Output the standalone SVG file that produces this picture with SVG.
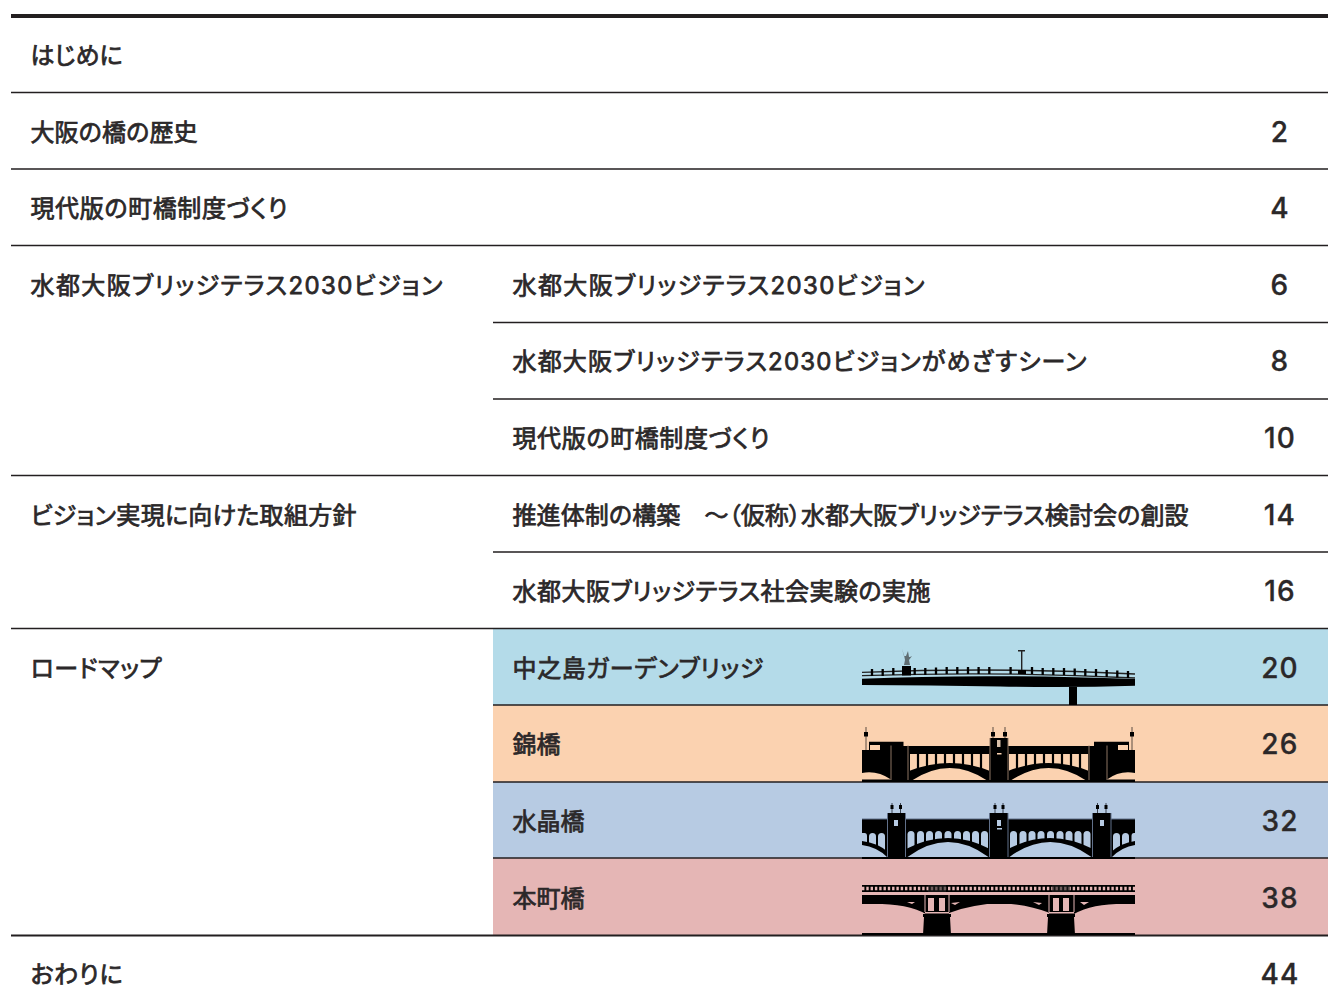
<svg xmlns="http://www.w3.org/2000/svg" width="1328" height="1005" viewBox="0 0 1328 1005">
<style>
text{font-family:"Inter","Noto Sans CJK JP",sans-serif;font-size:24px;font-weight:400;fill:#2b2829;stroke:#2b2829;stroke-width:.75;font-feature-settings:"palt"}
.n{font-family:"Inter","Noto Sans",sans-serif;font-size:28px;font-weight:500;stroke-width:.3;letter-spacing:1.200px;text-anchor:middle}
.l{stroke:#231f20;stroke-width:1.4;fill:none}
</style>
<rect width="1328" height="1005" fill="#fff"/>
<g id="bands">
<rect x="493" y="629" width="835" height="76" fill="#b4dbe9"/>
<rect x="493" y="705" width="835" height="77" fill="#fbd2b0"/>
<rect x="493" y="782" width="835" height="76" fill="#b7cbe3"/>
<rect x="493" y="858" width="835" height="77" fill="#e5b6b5"/>
</g>
<g id="connectors">
<rect x="11" y="14" width="1317" height="4" fill="#231f20"/>
<path class="l" d="M11 92.500H1328M11 169H1328M11 245.500H1328M493 322.500H1328M493 399H1328M11 475.500H1328M493 552H1328M11 628.500H1328"/>
<path class="l" d="M493 705H1328M493 782H1328M493 858H1328"/>
<path d="M11 935.500H1328" stroke="#231f20" stroke-width="2"/>
</g>
<g id="bridge1">
<path d="M862 678.800Q980 673.500 1135 679V685.700Q1070 688 1000 686.500Q930 685 862 685Z" fill="#000"/>
<path d="M862 672.300Q1000 667 1135 674M862 675.700Q1000 671 1135 678" stroke="#222" stroke-width="1.300" fill="none"/>
<path d="M872 669v7M882.700 669v7M893.300 668v7M914.700 668v7M925.300 668v7M936 667.500v7M946.700 667v7M957.300 667v7M968 667v7M978.600 667v7M989.300 667v7M1010.600 667v7M1032 667v7M1042.700 668v7M1053.300 668v7M1064 668v7M1074.700 668.500v7M1085.300 669v7M1096 669v7M1106.700 670v7M1117.300 670.500v7M1128 671v7" stroke="#000" stroke-width="2.300"/>
<rect x="902" y="666" width="9" height="9.500" fill="#000"/>
<path d="M902 649l2 6 1 5-1 5h6l-1-5 3-4 2-1-4 2h-1l-1-6-2 5h-2z" fill="#5f6d72"/>
<rect x="1018" y="670" width="8" height="4" fill="#000"/>
<path d="M1021.700 670V651" stroke="#222" stroke-width="1.400" fill="none"/>
<path d="M1018 650h7v1.500h-7z" fill="#222"/>
<rect x="1069" y="687" width="8" height="18" fill="#000"/>
</g>
<g id="bridge2">
<path fill="#000" d="M862 750H869V741.700H903.500V746H1094V741.700H1129V750H1135V782H862Z"/>
<path fill="#fbd2b0" d="M870 745h10v5h-10zM1118 745h10v5h-10zM910 754H989V781H910ZM1009 754H1088V781H1009Z"/>
<path d="M918 754v18M927 754v15M936 754v13M945 754v12M954 754v12M963 754v13M972 754v15M981 754v18M1017 754v18M1026 754v15M1035 754v13M1044 754v12M1053 754v12M1062 754v13M1071 754v15M1080 754v18" stroke="#000" stroke-width="2.200"/>
<path fill="#000" d="M909 771Q950 755 990 771V781H988Q950 755 911 781H909ZM1008 771Q1049 755 1089 771V781H1087Q1049 755 1010 781H1008Z"/>
<path fill="#fbd2b0" d="M862 773Q877 770 891 779.500H862ZM1135 773Q1120 770 1107 779.500H1135Z"/>
<rect x="990" y="738" width="18" height="43" fill="#000"/>
<path d="M891 745.500V781M908 745.500V781M990 738V781M1008 738V781M1089 745.500V781M1107 745.500V781" stroke="#8c7463" stroke-width="1" fill="none"/>
<rect x="997" y="740" width="3.500" height="7" fill="#d9c0aa"/><rect x="997" y="753" width="4.500" height="1.500" fill="#fbd2b0"/>
<path d="M866 750V727M993 738V727M1005 738V727M1132 750V727" stroke="#5a4c42" stroke-width="1"/>
<rect x="864" y="732" width="4" height="4.500" fill="#000"/><rect x="991" y="732" width="4" height="4.500" fill="#000"/><rect x="1003" y="732" width="4" height="4.500" fill="#000"/><rect x="1130" y="732" width="4" height="4.500" fill="#000"/>
<rect x="862" y="780" width="273" height="2" fill="#000"/>
</g>
<g id="bridge3">
<rect x="862" y="819" width="273" height="38" fill="#000"/>
<g fill="#b7cbe3">
<path d="M862 833h2.500a2.500 3 0 0 1 2.500 3v12h-5z"/><rect x="869" y="833" width="7" height="24" rx="3.500"/><rect x="878" y="833" width="7" height="24" rx="3.500"/>
<rect x="907.500" y="831" width="7" height="26" rx="3.500"/><rect x="917" y="831" width="7" height="26" rx="3.500"/><rect x="926" y="831" width="7" height="26" rx="3.500"/><rect x="935" y="831" width="7" height="26" rx="3.500"/><rect x="944.500" y="831" width="7" height="26" rx="3.500"/><rect x="954" y="831" width="7" height="26" rx="3.500"/><rect x="963" y="831" width="7" height="26" rx="3.500"/><rect x="972" y="831" width="7" height="26" rx="3.500"/><rect x="981" y="831" width="7" height="26" rx="3.500"/>
<rect x="1010" y="831" width="7" height="26" rx="3.500"/><rect x="1019.500" y="831" width="7" height="26" rx="3.500"/><rect x="1028.500" y="831" width="7" height="26" rx="3.500"/><rect x="1037.500" y="831" width="7" height="26" rx="3.500"/><rect x="1047" y="831" width="7" height="26" rx="3.500"/><rect x="1056.500" y="831" width="7" height="26" rx="3.500"/><rect x="1065.500" y="831" width="7" height="26" rx="3.500"/><rect x="1074.500" y="831" width="7" height="26" rx="3.500"/><rect x="1083.500" y="831" width="7" height="26" rx="3.500"/>
<rect x="1113" y="833" width="7" height="24" rx="3.500"/><rect x="1122" y="833" width="7" height="24" rx="3.500"/><path d="M1135 833h-1a2.500 3 0 0 0-2.500 3v12h3.500z"/>
</g>
<path fill="#000" d="M906 857V849Q948 827 990 849V857ZM1008 857V849Q1050 827 1093 849V857ZM862 841Q878 843 888 852V857H862ZM1135 841Q1121 843 1111 852V857H1135Z"/>
<path fill="#b7cbe3" d="M907.500 857Q948 827 988.500 857ZM1009.500 857Q1050 827 1091.500 857ZM862 845Q877 847 887 857H862ZM1135 845Q1122 847 1112 857H1135Z"/>
<rect x="888" y="813" width="17" height="44" fill="#000"/><rect x="990" y="813" width="18" height="44" fill="#000"/><rect x="1093" y="813" width="18" height="44" fill="#000"/>
<path d="M887.500 813V857M905.500 813V857M989.500 813V857M1008 813V857M1092.500 813V857M1111 813V857" stroke="#61708a" stroke-width="1"/>
<path d="M862 819H888M905 819H990M1008 819H1093M1111 819H1135" stroke="#61708a" stroke-width="1"/>
<rect x="894" y="820" width="4" height="6" fill="#b7cbe3"/><rect x="997" y="820" width="4" height="6" fill="#b7cbe3"/><rect x="997" y="828" width="5" height="1.500" fill="#b7cbe3"/><rect x="1100" y="820" width="4" height="6" fill="#b7cbe3"/>
<path d="M892 813v-10M900.500 813v-10M995 813v-10M1003 813v-10M1097.500 813v-10M1106 813v-10" stroke="#3b4350" stroke-width="1"/>
<g fill="#000"><rect x="890.500" y="805" width="3" height="4"/><rect x="899" y="805" width="3" height="4"/><rect x="993.500" y="805" width="3" height="4"/><rect x="1001.500" y="805" width="3" height="4"/><rect x="1096" y="805" width="3" height="4"/><rect x="1104.500" y="805" width="3" height="4"/></g>
<rect x="862" y="857" width="273" height="2" fill="#000"/>
</g>
<g id="bridge4">
<rect x="862" y="885" width="273" height="7" fill="#000"/>
<path d="M862 888.500H1135" stroke="#e5b6b5" stroke-width="3.500" stroke-dasharray="2.400 1.900"/>
<rect x="928" y="885" width="18" height="7" fill="#222" opacity=".6"/><rect x="1052" y="885" width="18" height="7" fill="#222" opacity=".6"/>
<rect x="862" y="892" width="273" height="3" fill="#e5b6b5"/>
<rect x="862" y="895" width="273" height="9" fill="#000"/>
<g fill="#000">
<path d="M862 904Q905 902 926 914V900H862Z"/>
<path d="M949 913Q1000 894 1050 913V900H949Z"/>
<path d="M1074 914Q1095 902 1135 904V900H1074Z"/>
<rect x="925" y="895" width="24" height="20"/><rect x="1049" y="895" width="25" height="20"/>
<path d="M923 914H951V917H950L951 935H923L924 917H923ZM1047 914H1075V917H1074L1075 935H1047L1048 917H1047Z"/>
</g>
<path fill="#e5b6b5" d="M928 898h6v13h-6zM939 898h6v13h-6zM1053 898h6v13h-6zM1063 898h6v13h-6zM925 912h24v1.500h-24zM1049 912h25v1.500h-25zM907 902l8 0-3 2zM951 903l9-1-5 3zM1033 902l9 1-3 2zM1080 902l9 0-5 3z"/>
<path d="M925 895V912M949 895V912M1049 895V912M1074 895V912" stroke="#e5b6b5" stroke-width="1"/>
<rect x="862" y="933" width="273" height="2" fill="#000"/>
</g>
<g id="labels">
<text x="30.500" y="64" textLength="92">はじめに</text>
<text x="30.500" y="141" textLength="167">大阪の橋の歴史</text><text class="n" x="1280" y="142">2</text>
<text x="30.500" y="217" textLength="257">現代版の町橋制度づくり</text><text class="n" x="1280" y="218">4</text>
<text x="30.500" y="294" textLength="412">水都大阪ブリッジテラス2030ビジョン</text>
<text x="512.500" y="294" textLength="412">水都大阪ブリッジテラス2030ビジョン</text><text class="n" x="1280" y="295">6</text>
<text x="512.500" y="370" textLength="574">水都大阪ブリッジテラス2030ビジョンがめざすシーン</text><text class="n" x="1280" y="371">8</text>
<text x="512.500" y="447" textLength="257">現代版の町橋制度づくり</text><text class="n" x="1280" y="448">10</text>
<text x="30.500" y="524" textLength="326">ビジョン実現に向けた取組方針</text>
<text x="512.500" y="524" textLength="676">推進体制の構築　～（仮称）水都大阪ブリッジテラス検討会の創設</text><text class="n" x="1280" y="525">14</text>
<text x="512.500" y="600" textLength="418">水都大阪ブリッジテラス社会実験の実施</text><text class="n" x="1280" y="601">16</text>
<text x="30.500" y="677" textLength="131">ロードマップ</text>
<text x="512.500" y="677" textLength="251">中之島ガーデンブリッジ</text><text class="n" x="1280" y="678">20</text>
<text x="512.500" y="753" textLength="48">錦橋</text><text class="n" x="1280" y="754">26</text>
<text x="512.500" y="830" textLength="72">水晶橋</text><text class="n" x="1280" y="831">32</text>
<text x="512.500" y="907" textLength="72">本町橋</text><text class="n" x="1280" y="908">38</text>
<text x="30.500" y="983" textLength="92">おわりに</text><text class="n" x="1280" y="984">44</text>
</g>
</svg>
